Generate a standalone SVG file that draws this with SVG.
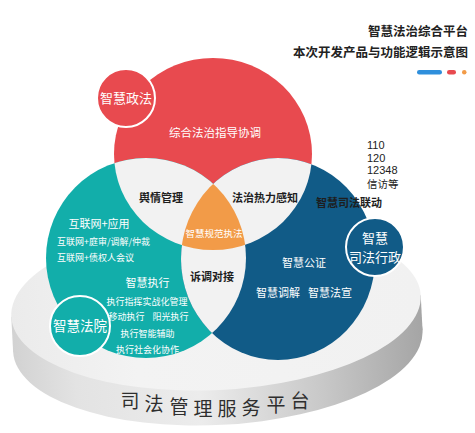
<svg xmlns="http://www.w3.org/2000/svg" width="475" height="433" viewBox="0 0 475 433">
<defs>
<style>
text{font-family:"Noto Sans CJK SC","Noto Sans",sans-serif;}
.w{fill:#ffffff;}
.k{fill:#1e1e1e;font-weight:600;}
.c{text-anchor:middle;}
.gray{fill:#f2f2f2;}
.badge{stroke:#ffffff;stroke-width:2;}
.num{font-family:"Liberation Sans",Arial,sans-serif;font-size:11px;fill:#222;}
</style>
<linearGradient id="side" x1="0" y1="0" x2="1" y2="0">
<stop offset="0" stop-color="#d2d2d2"/>
<stop offset="0.15" stop-color="#e3e3e3"/>
<stop offset="0.45" stop-color="#ececec"/>
<stop offset="0.75" stop-color="#c8c8c8"/>
<stop offset="1" stop-color="#a5a5a5"/>
</linearGradient>
<linearGradient id="topg" x1="0" y1="0" x2="1" y2="0">
<stop offset="0" stop-color="#ebebeb"/>
<stop offset="0.3" stop-color="#f3f3f3"/>
<stop offset="1" stop-color="#f1f1f1"/>
</linearGradient>
<clipPath id="cRed"><ellipse cx="213" cy="154" rx="99" ry="96"/></clipPath>
<clipPath id="cTeal"><circle cx="146" cy="258" r="100"/></clipPath>
</defs>
<rect width="475" height="433" fill="#ffffff"/>

<g id="title">
<text x="468" y="36" font-size="12.5" font-weight="700" fill="#222" text-anchor="end">智慧法治综合平台</text>
<text x="468" y="57" font-size="12.5" font-weight="700" fill="#222" text-anchor="end">本次开发产品与功能逻辑示意图</text>
<rect x="417" y="70" width="25" height="4.5" rx="2.25" fill="#2f8fdc"/>
<rect x="447" y="70" width="9" height="4.5" rx="2.25" fill="#e84a4f"/>
<rect x="462" y="70" width="4.5" height="4.5" rx="2.25" fill="#f29b48"/>
</g>

<g id="platform">
<g transform="rotate(-3 216 306)">
<ellipse cx="216" cy="341" rx="205" ry="84" fill="url(#side)"/>
<rect x="11" y="306" width="410" height="35" fill="url(#side)"/>
<ellipse cx="216" cy="306" rx="205" ry="84" fill="url(#topg)"/>
</g>
<g font-size="19" fill="#2e2e2e" text-anchor="middle">
<text x="130" y="408">司</text>
<text x="154" y="411">法</text>
<text x="179" y="414">管</text>
<text x="203" y="416">理</text>
<text x="227" y="416">服</text>
<text x="251" y="415">务</text>
<text x="276" y="412">平</text>
<text x="300" y="408">台</text>
</g>
</g>

<g id="circle-red"><ellipse cx="213" cy="154" rx="99" ry="96" fill="#e84a4f"/></g>
<g id="circle-teal"><circle cx="146" cy="258" r="100" fill="#12aeaa"/></g>
<g id="circle-blue"><ellipse cx="278" cy="259" rx="97" ry="101" fill="#115b87"/></g>

<g id="intersections">
<g clip-path="url(#cRed)"><circle cx="146" cy="258" r="100" class="gray"/></g>
<g clip-path="url(#cRed)"><ellipse cx="278" cy="259" rx="97" ry="101" class="gray"/></g>
<g clip-path="url(#cTeal)"><ellipse cx="278" cy="259" rx="97" ry="101" class="gray"/></g>
<g clip-path="url(#cRed)"><g clip-path="url(#cTeal)"><ellipse cx="278" cy="259" rx="97" ry="101" fill="#f29b48"/></g></g>
</g>

<g id="labels">
<text x="215" y="137" font-size="11.5" class="w c">综合法治指导协调</text>
<text x="161" y="202" font-size="11" class="k c">舆情管理</text>
<text x="265" y="202" font-size="11" class="k c">法治热力感知</text>
<text x="214" y="236.5" font-size="9.5" class="w c">智慧规范执法</text>
<text x="212" y="281" font-size="11" class="k c">诉调对接</text>
<text x="349" y="207" font-size="11" class="k c">智慧司法联动</text>
<text x="367" y="149" class="num">110</text>
<text x="367" y="161.5" class="num">120</text>
<text x="367" y="174" class="num">12348</text>
<text x="367" y="188" font-size="10.5" fill="#222">信访等</text>
<text x="304" y="267" font-size="11" class="w c">智慧公证</text>
<text x="278" y="297" font-size="11" class="w c">智慧调解</text>
<text x="330" y="297" font-size="11" class="w c">智慧法宣</text>
<text x="99" y="228" font-size="11" class="w c">互联网+应用</text>
<text x="57" y="244.5" font-size="9" class="w">互联网+庭审/调解/仲裁</text>
<text x="57" y="260.5" font-size="9" class="w">互联网+债权人会议</text>
<text x="147.5" y="287" font-size="11" class="w c">智慧执行</text>
<text x="147" y="304.5" font-size="9" class="w c">执行指挥实战化管理</text>
<text x="126.5" y="319.5" font-size="9" class="w c">移动执行</text>
<text x="170.5" y="319.5" font-size="9" class="w c">阳光执行</text>
<text x="147.5" y="336.5" font-size="9" class="w c">执行智能辅助</text>
<text x="147.5" y="352.5" font-size="9" class="w c">执行社会化协作</text>
</g>

<g id="badge-zhengfa">
<circle cx="126" cy="98" r="29" fill="#e84a4f" class="badge"/>
<text x="126" y="103" font-size="13" class="w c">智慧政法</text>
</g>
<g id="badge-fayuan">
<circle cx="80" cy="326" r="30" fill="#12aeaa" class="badge"/>
<text x="80" y="331" font-size="13.5" class="w c">智慧法院</text>
</g>
<g id="badge-sifa">
<circle cx="375" cy="247" r="29" fill="#115b87" class="badge"/>
<text x="375" y="242.5" font-size="13" class="w c">智慧</text>
<text x="375" y="262" font-size="13" class="w c">司法行政</text>
</g>
</svg>
